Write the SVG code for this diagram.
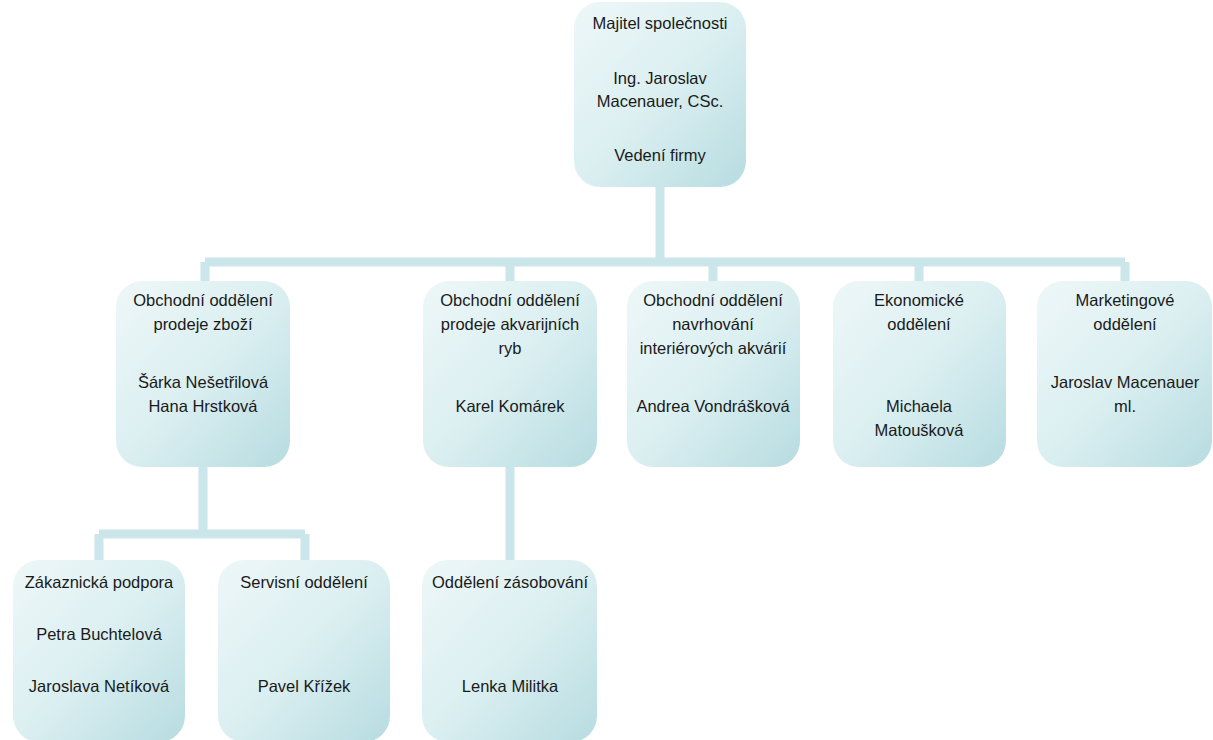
<svg xmlns="http://www.w3.org/2000/svg" width="1213" height="740" viewBox="0 0 1213 740">
<defs>
<linearGradient id="g" x1="0" y1="0" x2="1" y2="1">
<stop offset="0" stop-color="#eef7f8"/>
<stop offset="0.5" stop-color="#dbeff1"/>
<stop offset="1" stop-color="#b7dce1"/>
</linearGradient>
<style>
.box{fill:url(#g);}
.c{fill:none;stroke:#cbe6ea;stroke-width:9;}
text{font-family:"Liberation Sans",Arial,sans-serif;font-size:16.5px;fill:#1a1a1a;text-anchor:middle;}
</style>
</defs>
<rect width="1213" height="740" fill="#ffffff"/>
<g id="connectors">
<path class="c" d="M660 187V262M205 262H1125M205 262V282M510 262V282M713 262V282M919 262V282M1125 262V282"/>
<path class="c" d="M203 467V534M99 534H305M99 534V560M305 534V560"/>
<path class="c" d="M510 467V560"/>
</g>
<g id="n0"><rect class="box" x="574" y="2" width="172" height="185" rx="26"/>
<text x="660" y="29">Majitel společnosti</text>
<text x="660" y="84">Ing. Jaroslav</text>
<text x="660" y="107">Macenauer, CSc.</text>
<text x="660" y="161">Vedení firmy</text></g>
<g id="n1"><rect class="box" x="116" y="281" width="174" height="186" rx="26"/>
<text x="203" y="306">Obchodní oddělení</text>
<text x="203" y="330">prodeje zboží</text>
<text x="203" y="388">Šárka Nešetřilová</text>
<text x="203" y="412">Hana Hrstková</text></g>
<g id="n2"><rect class="box" x="423" y="281" width="174" height="186" rx="26"/>
<text x="510" y="306">Obchodní oddělení</text>
<text x="510" y="330">prodeje akvarijních</text>
<text x="510" y="354">ryb</text>
<text x="510" y="412">Karel Komárek</text></g>
<g id="n3"><rect class="box" x="627" y="281" width="173" height="186" rx="26"/>
<text x="713" y="306">Obchodní oddělení</text>
<text x="713" y="330">navrhování</text>
<text x="713" y="354">interiérových akvárií</text>
<text x="713" y="412">Andrea Vondrášková</text></g>
<g id="n4"><rect class="box" x="833" y="281" width="173" height="186" rx="26"/>
<text x="919" y="306">Ekonomické</text>
<text x="919" y="330">oddělení</text>
<text x="919" y="412">Michaela</text>
<text x="919" y="436">Matoušková</text></g>
<g id="n5"><rect class="box" x="1037" y="281" width="175" height="186" rx="26"/>
<text x="1125" y="306">Marketingové</text>
<text x="1125" y="330">oddělení</text>
<text x="1125" y="388">Jaroslav Macenauer</text>
<text x="1125" y="412">ml.</text></g>
<g id="n6"><rect class="box" x="13" y="560" width="172" height="182" rx="26"/>
<text x="99" y="588">Zákaznická podpora</text>
<text x="99" y="640">Petra Buchtelová</text>
<text x="99" y="692">Jaroslava Netíková</text></g>
<g id="n7"><rect class="box" x="218" y="560" width="172" height="182" rx="26"/>
<text x="304" y="588">Servisní oddělení</text>
<text x="304" y="692">Pavel Křížek</text></g>
<g id="n8"><rect class="box" x="422" y="560" width="175" height="182" rx="26"/>
<text x="510" y="588">Oddělení zásobování</text>
<text x="510" y="692">Lenka Militka</text></g>
</svg>
